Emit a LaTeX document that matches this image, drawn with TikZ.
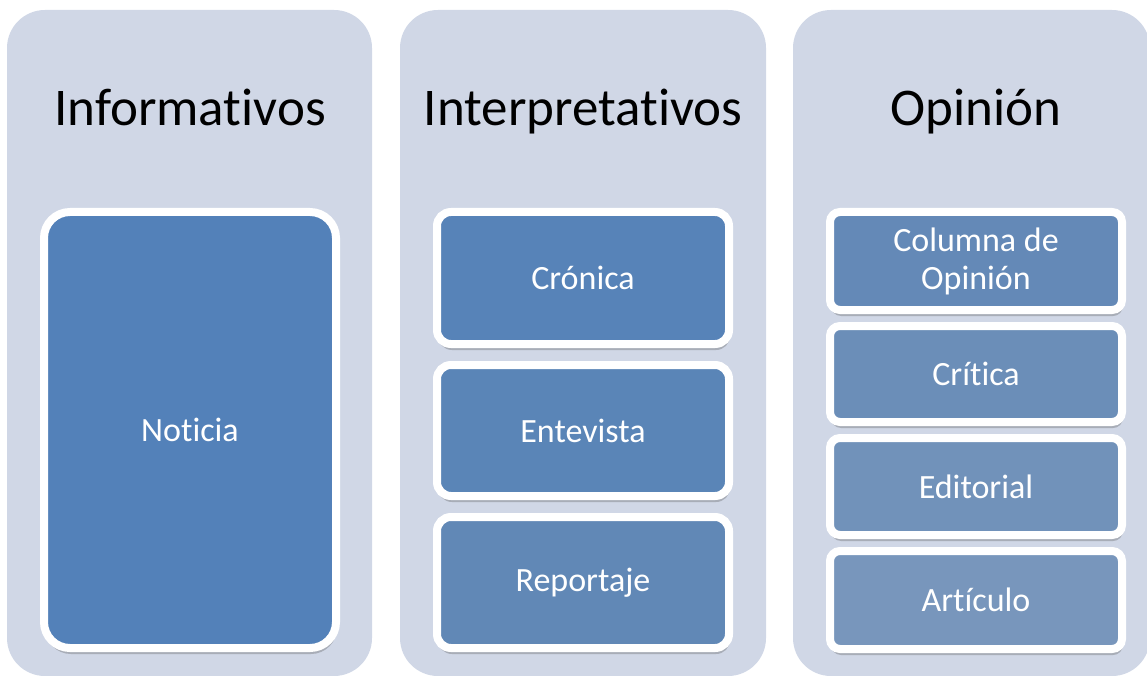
\documentclass[tikz,border=0pt]{standalone}
\usepackage{fontspec}
\setmainfont{Carlito}[Ligatures={NoCommon}]
\usetikzlibrary{shadows}
\definecolor{colbg}{RGB}{208,215,230}
\definecolor{bA}{RGB}{83,129,185}
\definecolor{bB}{RGB}{87,131,184}
\definecolor{bC}{RGB}{90,133,183}
\definecolor{bD}{RGB}{97,136,182}
\definecolor{bE}{RGB}{100,137,183}
\definecolor{bF}{RGB}{107,142,184}
\definecolor{bG}{RGB}{113,146,186}
\definecolor{bH}{RGB}{120,150,188}
\tikzset{
  colbox/.style={fill=colbg, draw=none, rounded corners=38pt},
  head/.style={font=\fontsize{53}{60}\selectfont, text=black, inner sep=0pt, anchor=base},
  itembox/.style={draw=white, line width=8pt, rounded corners=#1, minimum width=292pt,
     text=white, font=\fontsize{34}{38}\selectfont, align=center, inner sep=0pt,
     drop shadow={shadow xshift=1pt, shadow yshift=-6pt, opacity=0.3, fill=black!70}},
}
\begin{document}
\begin{tikzpicture}[x=1pt,y=-1pt]
\useasboundingbox (0,0) rectangle (1147,676);
\clip (0,0) rectangle (1147,676);
% columns
\fill[colbox] (7,10) rectangle (372,676);
\fill[colbox] (400,10) rectangle (766,676);
\fill[colbox] (793,10) rectangle (1150,676);
% headers
\node[head] (h1) at (190,126) {Informativos};
\node[head] (h2) at (583,126) {Interpretativos};
\node[head] (h3) at (976,126) {Opinión};
% column 1
\node[itembox=26pt, fill=bA, minimum height=436pt] (noticia) at (190,430) {Noticia};
% column 2
\node[itembox=14pt, fill=bB, minimum height=132pt] (cronica) at (583,278) {Crónica};
\node[itembox=14pt, fill=bC, minimum height=131pt] (entrevista) at (583,430.5) {Entevista};
\node[itembox=14pt, fill=bD, minimum height=131pt] (reportaje) at (583,582.5) {Reportaje};
% column 3
\node[itembox=10pt, fill=bE, minimum height=98pt] (columna) at (976,261) {Columna de\\Opinión};
\node[itembox=10pt, fill=bF, minimum height=96pt] (critica) at (976,374) {Crítica};
\node[itembox=10pt, fill=bG, minimum height=97pt] (editorial) at (976,486.5) {Editorial};
\node[itembox=10pt, fill=bH, minimum height=98pt] (articulo) at (976,600) {Artículo};
\end{tikzpicture}
\end{document}
